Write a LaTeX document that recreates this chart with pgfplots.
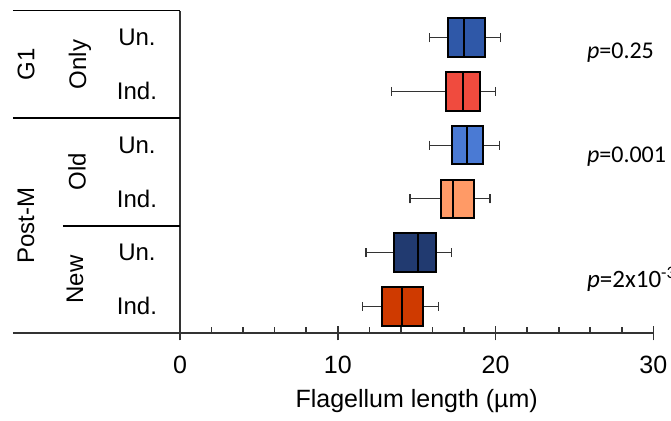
\documentclass[border=0pt]{standalone}
\usepackage{fontspec}
\setmainfont{Liberation Sans}
\newfontfamily\calib{Carlito}
\usepackage{pgfplots}
\pgfplotsset{compat=1.18}
\usepgfplotslibrary{statistics}

\definecolor{cA}{HTML}{2F58A8}
\definecolor{cB}{HTML}{F04B3E}
\definecolor{cC}{HTML}{4A7AD4}
\definecolor{cD}{HTML}{FF9A66}
\definecolor{cE}{HTML}{213A70}
\definecolor{cF}{HTML}{CF3A00}

\begin{document}
\fontsize{12}{14}\selectfont
\begin{tikzpicture}
\begin{axis}[
  scale only axis, width=236.7pt, height=161.3pt,
  xmin=0, xmax=30, ymin=0, ymax=6,
  axis x line=bottom, axis y line=left,
  axis line style={-, line width=0.8pt, black!80},
  xtick={0,10,20,30}, minor xtick={2,4,6,8,12,14,16,18,22,24,26,28},
  ytick=\empty,
  tick align=center,
  major tick length=7pt, minor tick length=3pt,
  every minor tick/.append style={yshift=1.5pt},
  tick style={line width=0.8pt, black!80},
  xlabel={Flagellum length (µm)},
  xlabel style={font=\fontsize{12.5}{15}\selectfont},
  /pgf/number format/assume math mode=true,
  xticklabel style={font=\fontsize{12.5}{15}\selectfont, yshift=-3.5pt},
  clip=false,
  boxplot/draw direction=x,
  boxplot/box extend=0.72,
  boxplot/whisker extend=0.17,
  boxplot/every whisker/.style={line width=0.6pt, black!80},
  boxplot/every median/.style={line width=1pt, black},
  boxplot/every box/.style={line width=1pt, draw=black},
]
% G1 Un.
\addplot[fill=cA, boxplot prepared={draw position=5.5,
  lower whisker=15.80, lower quartile=17.00, median=18.02,
  upper quartile=19.33, upper whisker=20.30}] coordinates {};
% G1 Ind.
\addplot[fill=cB, boxplot prepared={draw position=4.5,
  lower whisker=13.41, lower quartile=16.84, median=17.93,
  upper quartile=19.01, upper whisker=19.98}] coordinates {};
% Old Un.
\addplot[fill=cC, boxplot prepared={draw position=3.5,
  lower whisker=15.80, lower quartile=17.22, median=18.17,
  upper quartile=19.22, upper whisker=20.23}] coordinates {};
% Old Ind.
\addplot[fill=cD, boxplot prepared={draw position=2.5,
  lower whisker=14.58, lower quartile=16.56, median=17.32,
  upper quartile=18.65, upper whisker=19.65}] coordinates {};
% New Un.
\addplot[fill=cE, boxplot prepared={draw position=1.5,
  lower whisker=11.79, lower quartile=13.56, median=15.10,
  upper quartile=16.20, upper whisker=17.22}] coordinates {};
% New Ind.
\addplot[fill=cF, boxplot prepared={draw position=0.5,
  lower whisker=11.58, lower quartile=12.78, median=14.05,
  upper quartile=15.38, upper whisker=16.37}] coordinates {};

% table lines on the left
\draw[line width=0.8pt] ([xshift=-83.5pt]axis cs:0,6) -- (axis cs:0,6);
\draw[line width=0.8pt] ([xshift=-83.5pt]axis cs:0,4) -- (axis cs:0,4);
\draw[line width=0.8pt] ([xshift=-58.5pt]axis cs:0,2) -- (axis cs:0,2);
\draw[line width=0.8pt, black!80] ([xshift=-83.5pt]axis cs:0,0) -- (axis cs:0,0);

\node at ([xshift=-21.5pt]axis cs:0,5.5) {Un.};
\node at ([xshift=-21.5pt]axis cs:0,4.5) {Ind.};
\node at ([xshift=-21.5pt]axis cs:0,3.5) {Un.};
\node at ([xshift=-21.5pt]axis cs:0,2.5) {Ind.};
\node at ([xshift=-21.5pt]axis cs:0,1.5) {Un.};
\node at ([xshift=-21.5pt]axis cs:0,0.5) {Ind.};
\node[rotate=90] at ([xshift=-50pt]axis cs:0,5) {Only};
\node[rotate=90] at ([xshift=-77pt]axis cs:0,5) {G1};
\node[rotate=90] at ([xshift=-51.5pt]axis cs:0,3) {Old};
\node[rotate=90] at ([xshift=-52.5pt]axis cs:0,1) {New};
\node[rotate=90] at ([xshift=-77pt]axis cs:0,2) {Post-M};

\node[anchor=base west, inner sep=0, font=\calib\fontsize{12}{14}\selectfont] at (axis cs:25.77,5.12) {\textit{p}=0.25};
\node[anchor=base west, inner sep=0, font=\calib\fontsize{12}{14}\selectfont] at (axis cs:25.77,3.17) {\textit{p}=0.001};
\node[anchor=base west, inner sep=0, font=\calib\fontsize{12.5}{14}\selectfont] at (axis cs:25.77,0.86) {\textit{p}=2x10\textsuperscript{-3}};
\end{axis}
\pgfresetboundingbox
\useasboundingbox (-90pt,-43.85pt) rectangle (245.5pt,166.65pt);
\end{tikzpicture}
\end{document}
